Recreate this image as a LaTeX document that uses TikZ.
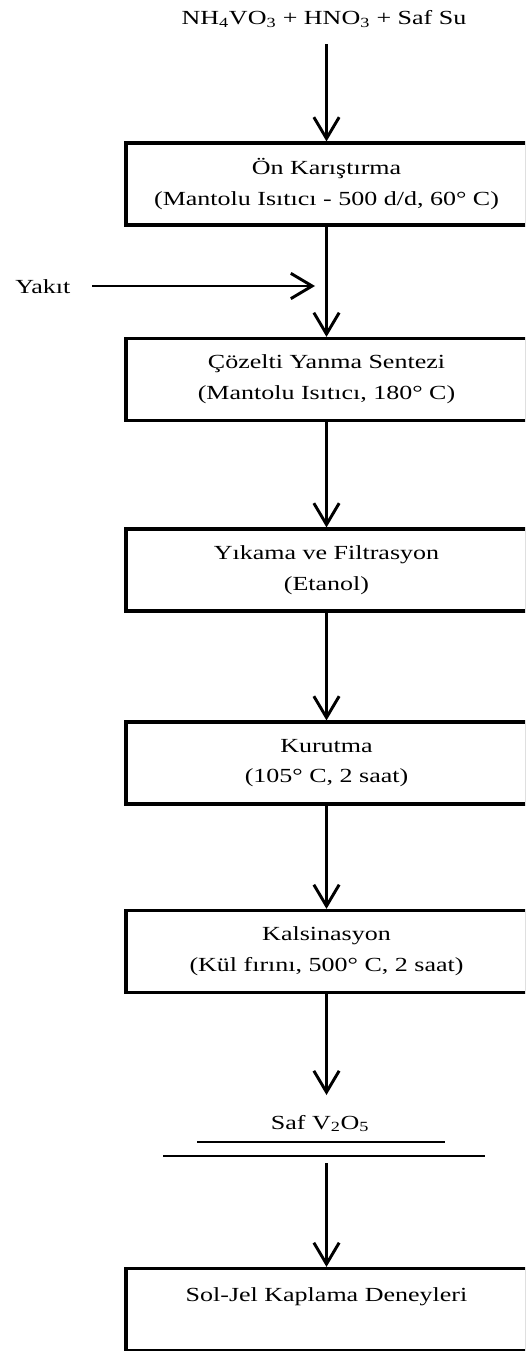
\documentclass[tikz,border=0pt]{standalone}
\usepackage{fontspec}
\setmainfont[FakeStretch=1.3]{Liberation Serif}
\usetikzlibrary{arrows.meta,positioning}

\tikzset{
  procbox/.style={draw, line width=2.4pt, minimum width=300.75pt, minimum height=61.5pt,
    align=center, inner sep=0pt, font=\fontsize{15}{23}\selectfont},
  flow/.style={line width=2.2pt, -{Straight Barb[length=16pt,width=19pt,line width=2.2pt]}},
  lbl/.style={inner sep=0pt, font=\fontsize{15}{23}\selectfont},
}

\begin{document}
\begin{tikzpicture}[x=0.75pt,y=-0.75pt]
\useasboundingbox (0,0) rectangle (525,1351);
\clip (0,0) rectangle (525,1351);

% start material
\node[lbl, anchor=base] (raw) at (324,25) {NH\textsubscript{4}VO\textsubscript{3} + HNO\textsubscript{3} + Saf Su};

% process steps
\node[procbox] (mix) at (326.5,184) {Ön Karıştırma\\(Mantolu Isıtıcı - 500 d/d, 60° C)};
\node[procbox] (synth) at (326.5,379.5) {Çözelti Yanma Sentezi\\(Mantolu Isıtıcı, 180° C)};
\node[procbox] (wash) at (326.5,570) {Yıkama ve Filtrasyon\\(Etanol)};
\node[procbox] (dry) at (326.5,763) {Kurutma\\(105° C, 2 saat)};
\node[procbox] (calc) at (326.5,951.5) {Kalsinasyon\\(Kül fırını, 500° C, 2 saat)};
\node[procbox] (coat) at (326.5,1309.5) {Sol-Jel Kaplama Deneyleri\\ \mbox{}};

% fuel
\node[lbl, anchor=base west] (fuel) at (15,294) {Yakıt};
\coordinate (fueltip) at (315,286);

% product
\node[lbl, anchor=base] (prod) at (320,1129) {Saf V\textsubscript{2}O\textsubscript{5}};
\coordinate (prodin) at (326.5,1095);
\coordinate (prodout) at (326.5,1163);

\draw[line width=1.2pt] (197,1142) -- (445,1142);
\draw[line width=1.2pt] (163,1156) -- (485,1156);

% arrows
\draw[flow, shorten <=12pt] (raw.south -| mix.north) -- (mix.north);
\draw[flow, shorten <=16pt] (fuel.east |- fueltip) -- (fueltip);
\draw[flow] (mix.south) -- (synth.north);
\draw[flow] (synth.south) -- (wash.north);
\draw[flow] (wash.south) -- (dry.north);
\draw[flow] (dry.south) -- (calc.north);
\draw[flow] (calc.south) -- (prodin);
\draw[flow] (prodout) -- (coat.north);
\end{tikzpicture}
\end{document}
